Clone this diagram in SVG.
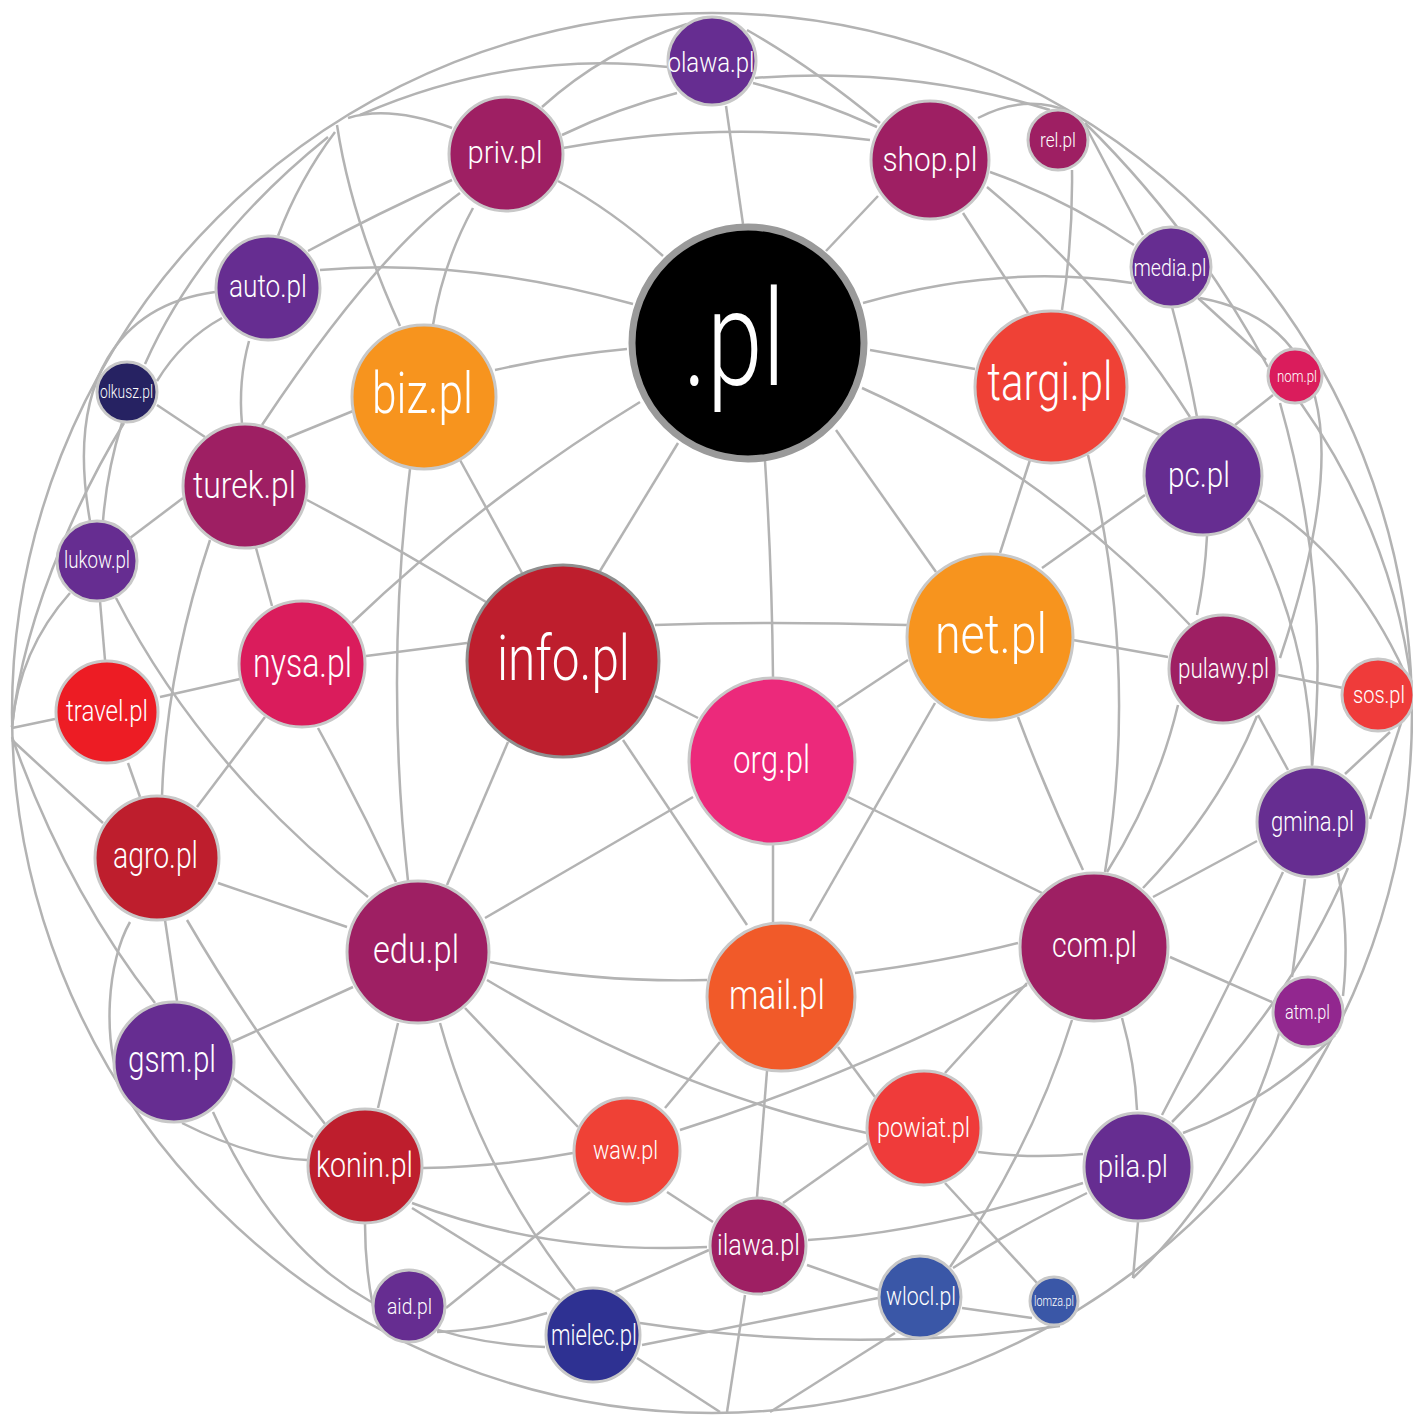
<svg xmlns="http://www.w3.org/2000/svg" width="1413" height="1415" viewBox="0 0 1413 1415">
<style>
.e{fill:none;stroke:#b3b3b3;stroke-width:2.5}
.n{stroke:#c8c8c8;stroke-width:3}
.t{fill:#fff;font-family:Roboto,"Liberation Sans",sans-serif;font-weight:300;text-anchor:middle}
</style>
<rect width="1413" height="1415" fill="#fff"/>
<g id="connectors">
<circle class="e" cx="712" cy="713" r="700"/>
<path class="e" d="M360 115Q512 49 668 67"/>
<path class="e" d="M348 118Q390 105 452 128"/>
<path class="e" d="M755 78Q907 66 1050 110"/>
<path class="e" d="M337 125Q351 218 400 326"/>
<path class="e" d="M335 132Q299 180 278 236"/>
<path class="e" d="M328 137Q200 240 145 364"/>
<path class="e" d="M542 107Q605 50 687 24"/>
<path class="e" d="M747 30Q812 67 880 123"/>
<path class="e" d="M562 135Q618 108 677 93"/>
<path class="e" d="M753 83Q815 99 877 127"/>
<path class="e" d="M563 148Q715 120 870 140"/>
<path class="e" d="M726 106L743 224"/>
<path class="e" d="M558 181Q613 211 663 256"/>
<path class="e" d="M878 196L826 251"/>
<path class="e" d="M978 118Q1026 93 1070 112"/>
<path class="e" d="M320 270Q463 257 633 304"/>
<path class="e" d="M308 251Q380 212 452 180"/>
<path class="e" d="M262 425Q375 255 460 193"/>
<path class="e" d="M473 208Q443 263 433 325"/>
<path class="e" d="M222 318Q182 340 157 381"/>
<path class="e" d="M215 292C120 305 65 380 90 521"/>
<path class="e" d="M249 341Q238 381 242 424"/>
<path class="e" d="M157 405L205 437"/>
<path class="e" d="M287 438L353 411"/>
<path class="e" d="M122 423Q107 470 103 521"/>
<path class="e" d="M124 423C95 470 25 600 12 727"/>
<path class="e" d="M70 593Q19 650 12 727"/>
<path class="e" d="M100 601L105 660"/>
<path class="e" d="M116 598Q202 766 368 897"/>
<path class="e" d="M130 538L183 498"/>
<path class="e" d="M160 697L240 679"/>
<path class="e" d="M55 719L12 728"/>
<path class="e" d="M128 763L140 797"/>
<path class="e" d="M210 540Q166 672 162 796"/>
<path class="e" d="M256 548L272 606"/>
<path class="e" d="M307 500Q393 545 486 602"/>
<path class="e" d="M352 623Q484 497 640 402"/>
<path class="e" d="M410 469Q385 675 408 881"/>
<path class="e" d="M460 460L522 573"/>
<path class="e" d="M366 656L467 643"/>
<path class="e" d="M265 717L197 807"/>
<path class="e" d="M318 728Q359 803 396 882"/>
<path class="e" d="M218 883L347 927"/>
<path class="e" d="M12 740Q55 780 103 823"/>
<path class="e" d="M12 737Q66 890 155 1003"/>
<path class="e" d="M130 922C108 960 100 1040 125 1097"/>
<path class="e" d="M165 920L177 1001"/>
<path class="e" d="M187 920Q250 1028 325 1124"/>
<path class="e" d="M232 1042L353 987"/>
<path class="e" d="M233 1078L313 1137"/>
<path class="e" d="M182 1123Q251 1158 307 1160"/>
<path class="e" d="M213 1112C270 1240 360 1340 545 1347"/>
<path class="e" d="M398 1023L378 1108"/>
<path class="e" d="M440 1023Q482 1173 575 1290"/>
<path class="e" d="M465 1008L578 1127"/>
<path class="e" d="M423 1168Q498 1167 573 1153"/>
<path class="e" d="M412 1203Q550 1255 707 1247"/>
<path class="e" d="M412 1208Q486 1254 560 1300"/>
<path class="e" d="M365 1224Q365 1267 373 1306"/>
<path class="e" d="M446 1308L590 1192"/>
<path class="e" d="M437 1332Q492 1330 547 1313"/>
<path class="e" d="M490 962Q597 983 707 980"/>
<path class="e" d="M487 980Q677 1093 867 1133"/>
<path class="e" d="M720 1042L665 1108"/>
<path class="e" d="M767 1071L757 1197"/>
<path class="e" d="M838 1047L875 1097"/>
<path class="e" d="M1027 985Q846 1078 680 1130"/>
<path class="e" d="M855 973Q943 962 1018 943"/>
<path class="e" d="M667 1192L713 1222"/>
<path class="e" d="M783 1203L868 1143"/>
<path class="e" d="M709 1250L615 1292"/>
<path class="e" d="M808 1240Q934 1232 1083 1183"/>
<path class="e" d="M807 1265L878 1290"/>
<path class="e" d="M745 1295L727 1412"/>
<path class="e" d="M640 1323Q850 1355 1060 1326"/>
<path class="e" d="M642 1345L878 1298"/>
<path class="e" d="M637 1358L720 1412"/>
<path class="e" d="M895 1333L770 1412"/>
<path class="e" d="M962 1308L1032 1318"/>
<path class="e" d="M945 1183L1037 1283"/>
<path class="e" d="M978 1152Q1030 1159 1083 1154"/>
<path class="e" d="M1027 983L945 1073"/>
<path class="e" d="M1072 1020Q1033 1146 950 1267"/>
<path class="e" d="M1122 1018Q1135 1064 1137 1110"/>
<path class="e" d="M1170 957L1272 1002"/>
<path class="e" d="M1087 1193Q1006 1233 953 1268"/>
<path class="e" d="M1138 1222L1133 1278"/>
<path class="e" d="M1280 1030Q1239 1176 1133 1278"/>
<path class="e" d="M1335 1035Q1271 1100 1183 1133"/>
<path class="e" d="M1283 872Q1228 990 1162 1115"/>
<path class="e" d="M1412 689L1370 819"/>
<path class="e" d="M1348 868Q1290 1005 1172 1122"/>
<path class="e" d="M1305 879L1292 977"/>
<path class="e" d="M1338 873Q1350 935 1343 996"/>
<path class="e" d="M1390 732L1345 774"/>
<path class="e" d="M1278 675L1343 688"/>
<path class="e" d="M1258 715L1288 770"/>
<path class="e" d="M1257 841L1153 897"/>
<path class="e" d="M1178 705Q1157 793 1107 872"/>
<path class="e" d="M1257 716Q1220 808 1143 888"/>
<path class="e" d="M1088 455Q1140 667 1105 872"/>
<path class="e" d="M1030 460L1000 553"/>
<path class="e" d="M1123 418L1160 435"/>
<path class="e" d="M1145 495L1042 568"/>
<path class="e" d="M1207 536Q1205 576 1197 615"/>
<path class="e" d="M1248 518Q1310 638 1312 765"/>
<path class="e" d="M1258 500Q1355 556 1412 689"/>
<path class="e" d="M1300 402Q1394 535 1412 689"/>
<path class="e" d="M1280 403Q1332 586 1312 766"/>
<path class="e" d="M1200 298C1320 320 1360 420 1280 658"/>
<path class="e" d="M1198 298L1266 360"/>
<path class="e" d="M1085 123Q1193 229 1268 367"/>
<path class="e" d="M1085 125L1143 235"/>
<path class="e" d="M1172 307Q1187 362 1197 417"/>
<path class="e" d="M1273 395L1235 425"/>
<path class="e" d="M990 172Q1064 198 1134 245"/>
<path class="e" d="M987 187Q1108 288 1190 417"/>
<path class="e" d="M963 213L1028 313"/>
<path class="e" d="M1072 170Q1073 240 1062 310"/>
<path class="e" d="M863 303Q1003 263 1132 283"/>
<path class="e" d="M870 350L975 369"/>
<path class="e" d="M862 388Q1044 470 1190 625"/>
<path class="e" d="M1073 640L1168 657"/>
<path class="e" d="M908 660L837 707"/>
<path class="e" d="M935 703L810 921"/>
<path class="e" d="M1018 717Q1047 794 1083 870"/>
<path class="e" d="M655 625Q765 621 907 625"/>
<path class="e" d="M765 461Q772 570 773 677"/>
<path class="e" d="M836 430L936 572"/>
<path class="e" d="M678 443L600 571"/>
<path class="e" d="M627 349Q561 355 495 370"/>
<path class="e" d="M655 696L698 718"/>
<path class="e" d="M623 740L747 925"/>
<path class="e" d="M508 742L447 885"/>
<path class="e" d="M693 797L485 918"/>
<path class="e" d="M773 845L773 922"/>
<path class="e" d="M848 797L1042 893"/>
</g>
<g id="n-pl"><circle cx="748" cy="343" r="116" fill="#000" stroke="#9a9a9a" stroke-width="7"/><text class="t" x="734" y="385" font-size="134" textLength="102" lengthAdjust="spacingAndGlyphs">.pl</text></g>
<g id="n-olawa"><circle class="n" cx="712" cy="61" r="44" fill="#662d91"/><text class="t" x="711" y="72" font-size="27" textLength="87" lengthAdjust="spacingAndGlyphs">olawa.pl</text></g>
<g id="n-priv"><circle class="n" cx="506" cy="154" r="57" fill="#9e1f63"/><text class="t" x="505" y="163" font-size="31" textLength="75" lengthAdjust="spacingAndGlyphs">priv.pl</text></g>
<g id="n-shop"><circle class="n" cx="930" cy="160" r="59" fill="#9e1f63"/><text class="t" x="930" y="171" font-size="33" textLength="95" lengthAdjust="spacingAndGlyphs">shop.pl</text></g>
<g id="n-rel"><circle class="n" cx="1058" cy="140" r="30" fill="#9e1f63"/><text class="t" x="1058" y="147" font-size="21" textLength="36" lengthAdjust="spacingAndGlyphs">rel.pl</text></g>
<g id="n-media"><circle class="n" cx="1171" cy="267" r="40" fill="#662d91"/><text class="t" x="1170" y="276" font-size="24" textLength="73" lengthAdjust="spacingAndGlyphs">media.pl</text></g>
<g id="n-nom"><circle class="n" cx="1295" cy="376" r="27" fill="#da1c5c"/><text class="t" x="1297" y="382" font-size="17" textLength="40" lengthAdjust="spacingAndGlyphs">nom.pl</text></g>
<g id="n-targi"><circle class="n" cx="1051" cy="387" r="76" fill="#ef4136"/><text class="t" x="1050" y="400" font-size="53" textLength="125" lengthAdjust="spacingAndGlyphs">targi.pl</text></g>
<g id="n-pc"><circle class="n" cx="1203" cy="476" r="59" fill="#662d91"/><text class="t" x="1199" y="487" font-size="35" textLength="62" lengthAdjust="spacingAndGlyphs">pc.pl</text></g>
<g id="n-auto"><circle class="n" cx="268" cy="288" r="52" fill="#662d91"/><text class="t" x="268" y="297" font-size="32" textLength="78" lengthAdjust="spacingAndGlyphs">auto.pl</text></g>
<g id="n-olkusz"><circle class="n" cx="127" cy="392" r="30" fill="#262262"/><text class="t" x="126.5" y="398" font-size="18" textLength="53" lengthAdjust="spacingAndGlyphs">olkusz.pl</text></g>
<g id="n-biz"><circle class="n" cx="424" cy="397" r="72" fill="#f7941e"/><text class="t" x="422.5" y="413" font-size="57" textLength="101" lengthAdjust="spacingAndGlyphs">biz.pl</text></g>
<g id="n-turek"><circle class="n" cx="245" cy="486" r="62" fill="#9e1f63"/><text class="t" x="244.5" y="498" font-size="37" textLength="103" lengthAdjust="spacingAndGlyphs">turek.pl</text></g>
<g id="n-lukow"><circle class="n" cx="97" cy="561" r="40" fill="#662d91"/><text class="t" x="97" y="568" font-size="23" textLength="66" lengthAdjust="spacingAndGlyphs">lukow.pl</text></g>
<g id="n-travel"><circle class="n" cx="107" cy="712" r="51" fill="#ed1c24"/><text class="t" x="107" y="721" font-size="29" textLength="82" lengthAdjust="spacingAndGlyphs">travel.pl</text></g>
<g id="n-nysa"><circle class="n" cx="302" cy="664" r="63" fill="#da1c5c"/><text class="t" x="302.5" y="677" font-size="40" textLength="99" lengthAdjust="spacingAndGlyphs">nysa.pl</text></g>
<g id="n-agro"><circle class="n" cx="157" cy="858" r="62" fill="#be1e2d"/><text class="t" x="155.5" y="868" font-size="36" textLength="85" lengthAdjust="spacingAndGlyphs">agro.pl</text></g>
<g id="n-info"><circle cx="563" cy="661" r="96" fill="#be1e2d" stroke="#8f8f8f" stroke-width="3"/><text class="t" x="563.5" y="680" font-size="63" textLength="133" lengthAdjust="spacingAndGlyphs">info.pl</text></g>
<g id="n-org"><circle class="n" cx="772" cy="761" r="83" fill="#ec297b"/><text class="t" x="771.5" y="773" font-size="39" textLength="77" lengthAdjust="spacingAndGlyphs">org.pl</text></g>
<g id="n-net"><circle class="n" cx="990" cy="637" r="83" fill="#f7941e"/><text class="t" x="991" y="653" font-size="56" textLength="112" lengthAdjust="spacingAndGlyphs">net.pl</text></g>
<g id="n-pulawy"><circle class="n" cx="1223" cy="669" r="54" fill="#9e1f63"/><text class="t" x="1223.5" y="678" font-size="28" textLength="91" lengthAdjust="spacingAndGlyphs">pulawy.pl</text></g>
<g id="n-sos"><circle class="n" cx="1378" cy="695" r="36" fill="#ef3b3a"/><text class="t" x="1379" y="703" font-size="24" textLength="52" lengthAdjust="spacingAndGlyphs">sos.pl</text></g>
<g id="n-gmina"><circle class="n" cx="1312" cy="822" r="55" fill="#662d91"/><text class="t" x="1312.5" y="831" font-size="27" textLength="83" lengthAdjust="spacingAndGlyphs">gmina.pl</text></g>
<g id="n-com"><circle class="n" cx="1094" cy="947" r="74" fill="#9e1f63"/><text class="t" x="1094.5" y="957" font-size="35" textLength="85" lengthAdjust="spacingAndGlyphs">com.pl</text></g>
<g id="n-atm"><circle class="n" cx="1308" cy="1012" r="35" fill="#92278f"/><text class="t" x="1307.5" y="1019" font-size="20" textLength="45" lengthAdjust="spacingAndGlyphs">atm.pl</text></g>
<g id="n-pila"><circle class="n" cx="1138" cy="1167" r="54" fill="#662d91"/><text class="t" x="1133" y="1177" font-size="32" textLength="70" lengthAdjust="spacingAndGlyphs">pila.pl</text></g>
<g id="n-powiat"><circle class="n" cx="924" cy="1128" r="57" fill="#ef3b3a"/><text class="t" x="923.5" y="1137" font-size="28" textLength="93" lengthAdjust="spacingAndGlyphs">powiat.pl</text></g>
<g id="n-wlocl"><circle class="n" cx="920" cy="1297" r="41" fill="#3a57a7"/><text class="t" x="921" y="1305" font-size="25" textLength="70" lengthAdjust="spacingAndGlyphs">wlocl.pl</text></g>
<g id="n-lomza"><circle class="n" cx="1054" cy="1301" r="24" fill="#3a57a7"/><text class="t" x="1054" y="1306" font-size="14" textLength="40" lengthAdjust="spacingAndGlyphs">lomza.pl</text></g>
<g id="n-mail"><circle class="n" cx="781" cy="997" r="74" fill="#f15a29"/><text class="t" x="777" y="1009" font-size="41" textLength="96" lengthAdjust="spacingAndGlyphs">mail.pl</text></g>
<g id="n-waw"><circle class="n" cx="627" cy="1151" r="53" fill="#ef4136"/><text class="t" x="625.5" y="1159" font-size="25" textLength="65" lengthAdjust="spacingAndGlyphs">waw.pl</text></g>
<g id="n-ilawa"><circle class="n" cx="758" cy="1246" r="48" fill="#9e1f63"/><text class="t" x="758.5" y="1255" font-size="29" textLength="83" lengthAdjust="spacingAndGlyphs">ilawa.pl</text></g>
<g id="n-mielec"><circle class="n" cx="593" cy="1335" r="47" fill="#2e3192"/><text class="t" x="594" y="1345" font-size="29" textLength="86" lengthAdjust="spacingAndGlyphs">mielec.pl</text></g>
<g id="n-edu"><circle class="n" cx="418" cy="952" r="71" fill="#9e1f63"/><text class="t" x="416" y="963" font-size="38" textLength="86" lengthAdjust="spacingAndGlyphs">edu.pl</text></g>
<g id="n-gsm"><circle class="n" cx="174" cy="1062" r="60" fill="#662d91"/><text class="t" x="172" y="1072" font-size="36" textLength="88" lengthAdjust="spacingAndGlyphs">gsm.pl</text></g>
<g id="n-konin"><circle class="n" cx="365" cy="1166" r="57" fill="#be1e2d"/><text class="t" x="364.5" y="1177" font-size="35" textLength="97" lengthAdjust="spacingAndGlyphs">konin.pl</text></g>
<g id="n-aid"><circle class="n" cx="409" cy="1306" r="36" fill="#662d91"/><text class="t" x="409.5" y="1314" font-size="22" textLength="45" lengthAdjust="spacingAndGlyphs">aid.pl</text></g>
</svg>
